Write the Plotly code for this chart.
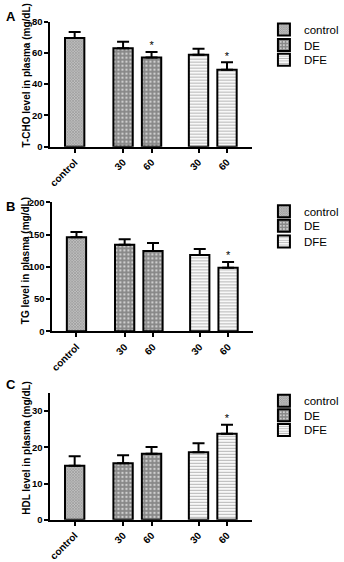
import plotly.graph_objects as go

# ---- data ----
tick_labels = ["control", "30", "60", "30", "60"]
groups = ["control", "DE", "DE", "DFE", "DFE"]
tcho_mean = [69.6, 62.9, 57.1, 58.8, 49.2]
tcho_err = [3.7, 4.2, 3.5, 3.9, 4.8]
tcho_sig = [False, False, True, False, True]
tg_mean = [145.9, 134.4, 124.7, 118.2, 98.5]
tg_err = [8.1, 8.5, 12.1, 9.5, 9.1]
tg_sig = [False, False, False, False, True]
hdl_mean = [14.9, 15.6, 18.2, 18.6, 23.7]
hdl_err = [2.6, 2.2, 1.9, 2.5, 2.5]
hdl_sig = [False, False, False, False, True]

panels = [
    ("A", "T-CHO level in plasma (mg/dL)", tcho_mean, tcho_err, tcho_sig, [0, 80], 20),
    ("B", "TG level in plasma (mg/dL)", tg_mean, tg_err, tg_sig, [0, 200], 50),
    ("C", "HDL level in plasma (mg/dL)", hdl_mean, hdl_err, hdl_sig, [0, 35], 10),
]

# ---- layout constants ----
H = 562.0
W = 344.0
slot_pos = [0, 1.7, 2.7, 4.35, 5.35]
bar_w = 0.68
FONT = "Liberation Sans, Arial, sans-serif"
styles = {
    "control": dict(shape="x", fgcolor="#606060", bgcolor="#c0c0c0", size=2, solidity=0.5),
    "DE": dict(shape=".", fgcolor="#111111", bgcolor="white", size=4, solidity=0.8),
    "DFE": dict(shape="-", fgcolor="#707070", bgcolor="white", size=3, solidity=0.4),
}
xdomains = [[0.151, 0.779], [0.157, 0.782], [0.151, 0.779]]
ydomains = [[0.7438, 0.9715], [0.4075, 0.6423], [0.0641, 0.2954]]
legend_rows_px = [[24, 40, 55], [210, 225, 241], [404, 419, 434]]
title_center_px = [71, 261, 452]
label_top_px = [1, 196, 378]

fig = go.Figure()
leg_n = 0
for p, (letter, ytitle, mean, err, sig, yr, dt) in enumerate(panels):
    sfx = "" if p == 0 else str(p + 1)
    for gi, g in enumerate(["control", "DE", "DFE"]):
        leg_n += 1
        lname = "legend" if leg_n == 1 else "legend" + str(leg_n)
        idx = [i for i, gg in enumerate(groups) if gg == g]
        fig.add_trace(go.Bar(
            x=[slot_pos[i] for i in idx], y=[mean[i] for i in idx],
            width=bar_w, name=g, legend=lname,
            xaxis="x" + sfx, yaxis="y" + sfx,
            marker=dict(color=styles[g]["bgcolor"], pattern=styles[g],
                        line=dict(color="black", width=2)),
            error_y=dict(type="data", symmetric=False,
                         array=[err[i] for i in idx], arrayminus=[0] * len(idx),
                         color="black", thickness=2, width=6),
        ))
        fig.layout[lname] = dict(
            x=0.816, y=1 - legend_rows_px[p][gi] / H, xanchor="left", yanchor="middle",
            font=dict(family=FONT, size=11.5, color="black"),
            bgcolor="rgba(0,0,0,0)", itemwidth=30)
    sx = [slot_pos[i] for i in range(len(mean)) if sig[i]]
    sy = [mean[i] + err[i] for i in range(len(mean)) if sig[i]]
    fig.add_trace(go.Scatter(x=sx, y=sy, mode="text", text=["*"] * len(sx),
                             textposition="top center", showlegend=False,
                             textfont=dict(size=11, color="black", family=FONT),
                             xaxis="x" + sfx, yaxis="y" + sfx))
    fig.layout["xaxis" + sfx] = dict(
        domain=xdomains[p], anchor="y" + sfx, range=[-0.85, 6.23],
        tickvals=slot_pos, ticktext=tick_labels, tickangle=-45,
        showline=True, linecolor="black", linewidth=2, ticks="outside",
        ticklen=4, tickwidth=1.5, tickcolor="black", showgrid=False, zeroline=False,
        tickfont=dict(family=FONT, size=10, color="black", weight="bold"))
    fig.layout["yaxis" + sfx] = dict(
        domain=ydomains[p], anchor="x" + sfx, range=yr, dtick=dt,
        showline=True, linecolor="black", linewidth=2, ticks="outside",
        ticklen=4, tickwidth=1.5, tickcolor="black", showgrid=False, zeroline=False,
        tickfont=dict(family=FONT, size=9.5, color="black", weight="bold"))
    fig.add_annotation(text="<b>" + ytitle + "</b>", textangle=-90,
                       x=26 / W, y=1 - title_center_px[p] / H,
                       xref="paper", yref="paper", xanchor="center", yanchor="middle",
                       showarrow=False, font=dict(family=FONT, size=10, color="black"))
    fig.add_annotation(text="<b>" + letter + "</b>", x=2 / W, y=1 - label_top_px[p] / H,
                       xref="paper", yref="paper", xanchor="left", yanchor="top",
                       showarrow=False, font=dict(family=FONT, size=13, color="black"))

fig.update_layout(width=344, height=562, margin=dict(l=0, r=0, t=0, b=0),
                  paper_bgcolor="white", plot_bgcolor="white", barmode="overlay")
fig.write_html("out.html")
